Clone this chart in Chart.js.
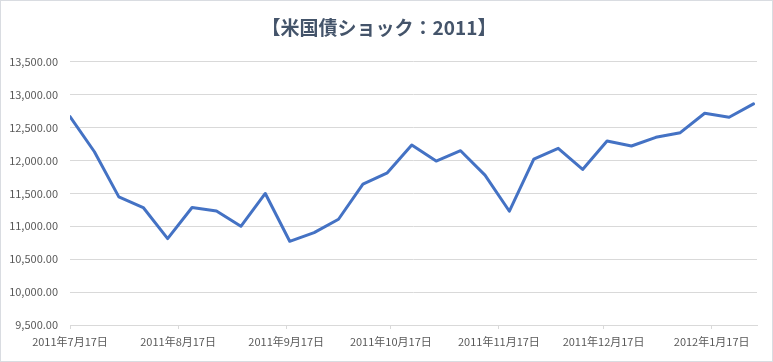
<!DOCTYPE html>
<html lang="ja">
<head>
<meta charset="utf-8">
<title>米国債ショック：2011</title>
<script src="https://cdn.jsdelivr.net/npm/chart.js@4"></script>
<style>
  html, body { margin: 0; padding: 0; background: #fff; }
  #wrap {
    width: 773px; height: 362px; box-sizing: border-box;
    border: 1px solid #d9dce1; background: #fff;
  }
  #dow-chart { display: block; }
</style>
</head>
<body>
<div id="wrap"><canvas id="dow-chart" width="771" height="360"></canvas></div>
<script>
// weekly closes
const weekDates = [
  '2011-07-17', '2011-07-24', '2011-07-31', '2011-08-07', '2011-08-14',
  '2011-08-21', '2011-08-28', '2011-09-04', '2011-09-11', '2011-09-18',
  '2011-09-25', '2011-10-02', '2011-10-09', '2011-10-16', '2011-10-23',
  '2011-10-30', '2011-11-06', '2011-11-13', '2011-11-20', '2011-11-27',
  '2011-12-04', '2011-12-11', '2011-12-18', '2011-12-25', '2012-01-01',
  '2012-01-08', '2012-01-15', '2012-01-22', '2012-01-29'
];
const closes = [
  12666, 12133, 11447, 11285, 10813,
  11285, 11234, 11000, 11499, 10772,
  10904, 11107, 11641, 11813, 12235,
  11991, 12149, 11778, 11229, 12022,
  12184, 11864, 12296, 12220, 12352,
  12423, 12718, 12657, 12860
];
const tickDates = ['2011-07-17', '2011-08-17', '2011-09-17', '2011-10-17', '2011-11-17', '2011-12-17', '2012-01-17'];
const tickLabels = ['2011年7月17日', '2011年8月17日', '2011年9月17日', '2011年10月17日', '2011年11月17日', '2011年12月17日', '2012年1月17日'];
const axisEnd = '2012-01-30';

// days since the first week, so the x axis behaves like a date axis
const start = Date.parse(weekDates[0]);
const dayOf = d => Math.round((Date.parse(d) - start) / 86400000);

const points = weekDates.map((d, i) => ({ x: dayOf(d), y: closes[i] }));
const tickDays = tickDates.map(dayOf);

const font = "'Noto Sans CJK JP', 'Noto Sans', sans-serif";

new Chart(document.getElementById('dow-chart').getContext('2d'), {
  type: 'line',
  data: {
    datasets: [{
      label: 'NYダウ',
      data: points,
      borderColor: '#4472c4',
      borderWidth: 3,
      borderJoinStyle: 'round',
      borderCapStyle: 'round',
      pointRadius: 0,
      tension: 0,
      fill: false
    }]
  },
  options: {
    responsive: false,
    animation: false,
    layout: { padding: { left: 0, right: 15, top: 0, bottom: 0 } },
    plugins: {
      legend: { display: false },
      tooltip: { enabled: false },
      title: {
        display: true,
        text: '【米国債ショック：2011】',
        color: '#44546a',
        font: { family: font, size: 19, weight: 'bold', lineHeight: 1.2 },
        padding: { top: 15, bottom: 23 }
      }
    },
    scales: {
      x: {
        type: 'linear',
        min: 0,
        max: dayOf(axisEnd),
        afterFit: s => { s.height = 36; },
        afterBuildTicks: s => { s.ticks = tickDays.map(v => ({ value: v })); },
        grid: { drawOnChartArea: false, drawTicks: true, tickLength: 4, color: '#d9d9d9' },
        border: { display: true, color: '#d9d9d9' },
        ticks: {
          autoSkip: false,
          maxRotation: 0,
          padding: 6,
          color: '#595959',
          font: { family: font, size: 11 },
          callback: v => {
            const i = tickDays.indexOf(v);
            return i >= 0 ? tickLabels[i] : '';
          }
        }
      },
      y: {
        min: 9500,
        max: 13500,
        afterFit: s => { s.width = 69; },
        grid: { color: '#d9d9d9', drawTicks: false },
        border: { display: false },
        ticks: {
          stepSize: 500,
          padding: 12,
          color: '#595959',
          font: { family: font, size: 11 },
          callback: v => v.toLocaleString('en-US', { minimumFractionDigits: 2, maximumFractionDigits: 2 })
        }
      }
    }
  }
});
</script>
</body>
</html>
